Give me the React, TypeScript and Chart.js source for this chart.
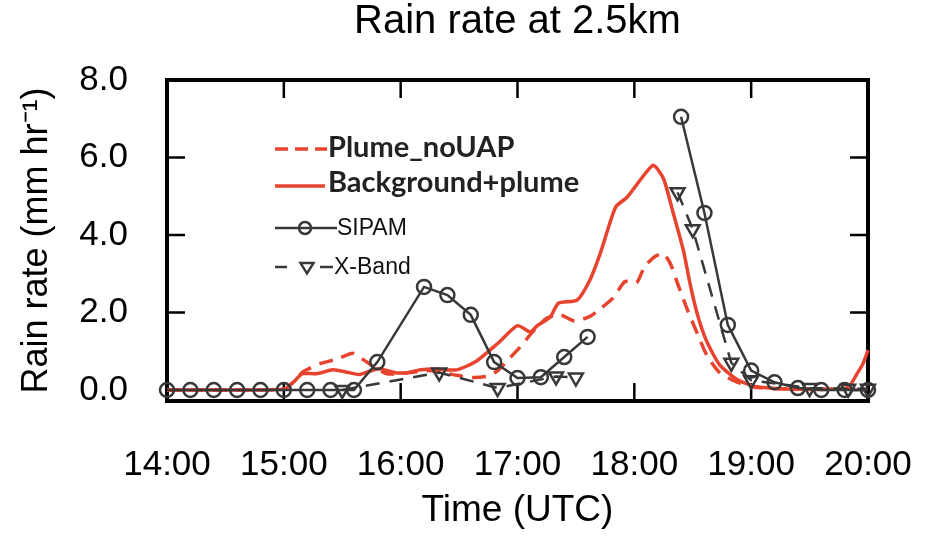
import React, { useEffect, useRef } from 'react';
import { Chart, registerables } from 'chart.js';

Chart.register(...registerables);

// ---------- data ----------
const chartTitle = 'Rain rate at 2.5km';
const xAxisTitle = 'Time (UTC)';
const yAxisTitle = 'Rain rate (mm hr\u207B\u00B9)';
const xTickHours = [14, 15, 16, 17, 18, 19, 20];
const yTickValues = [0, 2, 4, 6, 8];
const seriesNames = ['Plume_noUAP', 'Background+plume', 'SIPAM', 'X-Band'];

// Plume_noUAP (model, dashed red) – time in decimal hours UTC
const plumeTime = [14.0, 15.0, 15.08, 15.16, 15.31, 15.46, 15.59, 15.71, 15.88, 16.08, 16.25, 16.48, 16.62, 16.75, 16.83, 16.91, 17.02, 17.13, 17.25, 17.36, 17.49, 17.62, 17.71, 17.82, 17.92, 18.02, 18.09, 18.18, 18.25, 18.31, 18.37, 18.45, 18.54, 18.62, 18.73, 18.88, 19.02, 19.25, 20.0];
const plumeRate = [0.0, 0.02, 0.2, 0.46, 0.68, 0.8, 0.95, 0.72, 0.42, 0.45, 0.5, 0.38, 0.32, 0.36, 0.5, 0.75, 1.1, 1.5, 1.85, 1.95, 1.78, 1.9, 2.1, 2.38, 2.8, 2.77, 3.2, 3.45, 3.52, 3.25, 2.75, 2.1, 1.45, 0.9, 0.45, 0.2, 0.08, 0.03, 0.02];

// Background+plume (model, solid red)
const bgTime = [14.0, 15.0, 15.08, 15.16, 15.28, 15.42, 15.54, 15.65, 15.81, 15.97, 16.08, 16.17, 16.28, 16.48, 16.65, 16.83, 17.0, 17.11, 17.17, 17.28, 17.35, 17.51, 17.62, 17.71, 17.84, 17.94, 18.16, 18.25, 18.33, 18.42, 18.48, 18.54, 18.62, 18.73, 18.88, 19.02, 19.25, 19.82, 19.91, 19.96, 20.0];
const bgRate = [0.0, 0.02, 0.2, 0.42, 0.42, 0.52, 0.46, 0.4, 0.55, 0.44, 0.46, 0.52, 0.54, 0.52, 0.75, 1.2, 1.66, 1.5, 1.66, 1.88, 2.24, 2.32, 2.84, 3.54, 4.72, 4.98, 5.8, 5.45, 4.6, 3.6, 2.7, 1.95, 1.25, 0.65, 0.27, 0.1, 0.03, 0.05, 0.44, 0.7, 1.03];

// SIPAM radar (observed, circles) – null = no data (line break)
const sipamTime = [14.0, 14.2, 14.4, 14.6, 14.8, 15.0, 15.2, 15.4, 15.6, 15.8, 16.2, 16.4, 16.6, 16.8, 17.0, 17.2, 17.4, 17.6, 17.8, 18.4, 18.6, 18.8, 19.0, 19.2, 19.4, 19.6, 19.8, 20.0];
const sipamRate = [0, 0, 0, 0, 0, 0, 0, 0, 0, 0.72, 2.66, 2.45, 1.94, 0.72, 0.31, 0.33, 0.85, 1.37, null, 7.05, 4.57, 1.68, 0.5, 0.2, 0.05, 0, 0, 0];

// X-Band radar (observed, triangles)
const xbandTime = [15.5, 16.33, 16.83, 17.33, 17.5, 17.9, 18.37, 18.5, 18.83, 19.0, 19.5, 19.83, 20.0];
const xbandRate = [0.0, 0.45, 0.05, 0.35, 0.32, null, 5.1, 4.15, 0.7, 0.25, 0.05, 0.03, 0.03];

// ---------- styles ----------
const RED = '#e8432e';
const GRAY = '#383838';
const SANS = '"Liberation Sans", Arial, Helvetica, sans-serif';
const BOLD_SANS = 'Lato, "Open Sans", "Noto Sans", sans-serif';

const pts = (t: number[], v: (number | null)[]) => t.map((x, i) => ({ x, y: v[i] }));
const fmtTime = (h: number) => {
  const hh = Math.floor(h + 1e-9);
  const mm = Math.round((h - hh) * 60);
  return `${hh}:${String(mm).padStart(2, '0')}`;
};

const framePlugin = {
  id: 'ncFrame',
  beforeDatasetsDraw(chart: any) {
    const { ctx, chartArea: a, scales } = chart;
    const tl = 18;
    ctx.save();
    ctx.setLineDash([]);
    ctx.strokeStyle = '#000';
    ctx.lineWidth = 2.5;
    ctx.beginPath();
    xTickHours.slice(1, -1).forEach((v) => {
      const px = scales.x.getPixelForValue(v);
      ctx.moveTo(px, a.bottom);
      ctx.lineTo(px, a.bottom - tl);
      ctx.moveTo(px, a.top);
      ctx.lineTo(px, a.top + tl);
    });
    yTickValues.slice(0, -1).forEach((v) => {
      const py = scales.y.getPixelForValue(v);
      ctx.moveTo(a.left, py);
      ctx.lineTo(a.left + tl, py);
      ctx.moveTo(a.right, py);
      ctx.lineTo(a.right - tl, py);
    });
    ctx.stroke();
    ctx.lineWidth = 4;
    ctx.strokeRect(a.left, a.top, a.right - a.left, a.bottom - a.top);
    ctx.restore();
  },
};

const legendPlugin = {
  id: 'ncLegend',
  afterDatasetsDraw(chart: any) {
    const { ctx, chartArea: a } = chart;
    const x0 = a.left + 108;
    const line = (x1: number, y1: number, x2: number, y2: number) => {
      ctx.beginPath();
      ctx.moveTo(x1, y1);
      ctx.lineTo(x2, y2);
      ctx.stroke();
    };
    ctx.save();
    ctx.textAlign = 'left';
    ctx.textBaseline = 'middle';

    // bold model entries, sized to match width
    ctx.font = `bold 100px ${BOLD_SANS}`;
    const w = ctx.measureText(seriesNames[1]).width;
    const boldSize = Math.round((100 * 255) / w);
    ctx.font = `bold ${boldSize}px ${BOLD_SANS}`;

    const y1 = a.top + 69;
    ctx.strokeStyle = RED;
    ctx.lineWidth = 3.5;
    ctx.setLineDash([13, 7]);
    line(x0, y1, x0 + 52, y1);
    ctx.fillStyle = '#222';
    ctx.fillText(seriesNames[0], x0 + 53, y1 - 1);

    const y2 = a.top + 106;
    ctx.setLineDash([]);
    line(x0, y2, x0 + 50, y2);
    ctx.fillText(seriesNames[1], x0 + 53, y2 - 3);

    // observed entries
    ctx.font = `23px ${SANS}`;
    ctx.fillStyle = '#111';
    const y3 = a.top + 148;
    ctx.strokeStyle = GRAY;
    ctx.lineWidth = 2.5;
    line(x0, y3, x0 + 62, y3);
    ctx.beginPath();
    ctx.arc(x0 + 30, y3, 6, 0, Math.PI * 2);
    ctx.stroke();
    ctx.fillText(seriesNames[2], x0 + 62, y3 + 1);

    const y4 = a.top + 187;
    line(x0, y4, x0 + 12, y4);
    line(x0 + 45, y4, x0 + 58, y4);
    const tx = x0 + 32;
    const r = 6.5;
    ctx.beginPath();
    ctx.moveTo(tx - r, y4 - r * 0.6);
    ctx.lineTo(tx + r, y4 - r * 0.6);
    ctx.lineTo(tx, y4 + r);
    ctx.closePath();
    ctx.stroke();
    ctx.fillText(seriesNames[3], x0 + 59, y4 + 1);
    ctx.restore();
  },
};

export default function App() {
  const ref = useRef<HTMLCanvasElement | null>(null);

  useEffect(() => {
    if (!ref.current) return;
    const chart = new Chart(ref.current, {
      type: 'line',
      data: {
        datasets: [
          {
            label: seriesNames[2],
            data: pts(sipamTime, sipamRate),
            borderColor: GRAY,
            borderWidth: 2.5,
            pointStyle: 'circle',
            pointRadius: 7,
            pointBorderWidth: 2.5,
            pointBorderColor: GRAY,
            pointBackgroundColor: 'rgba(0,0,0,0)',
            spanGaps: false,
            tension: 0,
            order: 0,
            clip: false,
          },
          {
            label: seriesNames[3],
            data: pts(xbandTime, xbandRate),
            borderColor: GRAY,
            borderWidth: 2.5,
            borderDash: [14, 10],
            pointStyle: 'triangle',
            pointRotation: 180,
            pointRadius: 8,
            pointBorderWidth: 2.5,
            pointBorderColor: GRAY,
            pointBackgroundColor: 'rgba(0,0,0,0)',
            spanGaps: false,
            tension: 0,
            order: 1,
            clip: false,
          },
          {
            label: seriesNames[1],
            data: pts(bgTime, bgRate),
            borderColor: RED,
            borderWidth: 3.5,
            pointRadius: 0,
            tension: 0.2,
            order: 2,
            clip: false,
          },
          {
            label: seriesNames[0],
            data: pts(plumeTime, plumeRate),
            borderColor: RED,
            borderWidth: 3.5,
            borderDash: [14, 9],
            pointRadius: 0,
            tension: 0.2,
            order: 3,
            clip: false,
          },
        ],
      },
      options: {
        animation: false,
        responsive: false,
        devicePixelRatio: 1,
        layout: { padding: { left: 0, right: 67, top: 0, bottom: 0 } },
        plugins: {
          legend: { display: false },
          tooltip: { enabled: false },
          title: {
            display: true,
            text: chartTitle,
            fullSize: false,
            color: '#000',
            font: { family: SANS, size: 40, weight: 'normal', lineHeight: 1 },
            padding: { top: 2, bottom: 38 },
          },
        },
        scales: {
          x: {
            type: 'linear',
            min: 14,
            max: 20,
            afterBuildTicks: (s: any) => {
              s.ticks = xTickHours.map((v) => ({ value: v }));
            },
            afterFit: (s: any) => {
              s.height = 136;
              s.paddingLeft = 0;
              s.paddingRight = 0;
            },
            grid: { display: false, drawTicks: false },
            border: { display: false },
            ticks: {
              callback: (v: any) => fmtTime(Number(v)),
              color: '#000',
              font: { family: SANS, size: 35 },
              padding: 43,
              maxRotation: 0,
              autoSkip: false,
            },
            title: {
              display: true,
              text: xAxisTitle,
              color: '#000',
              font: { family: SANS, size: 37, lineHeight: 1 },
              padding: { top: 0, bottom: 8 },
            },
          },
          y: {
            type: 'linear',
            min: -0.284,
            max: 8,
            afterBuildTicks: (s: any) => {
              s.ticks = yTickValues.map((v) => ({ value: v }));
            },
            afterFit: (s: any) => {
              s.width = 167;
              s.paddingTop = 0;
              s.paddingBottom = 0;
            },
            grid: { display: false, drawTicks: false },
            border: { display: false },
            ticks: {
              callback: (v: any) => Number(v).toFixed(1),
              color: '#000',
              font: { family: SANS, size: 35 },
              padding: 39,
            },
            title: {
              display: true,
              text: yAxisTitle,
              color: '#000',
              font: { family: SANS, size: 36, lineHeight: 1 },
              padding: { top: 19, bottom: 0 },
            },
          },
        },
      },
      plugins: [framePlugin, legendPlugin],
    } as any);
    return () => chart.destroy();
  }, []);

  return (
    <div style={{ position: 'fixed', left: 0, top: 0, width: 935, height: 537, background: '#fff' }}>
      <canvas ref={ref} width={935} height={537} style={{ display: 'block' }} />
    </div>
  );
}
